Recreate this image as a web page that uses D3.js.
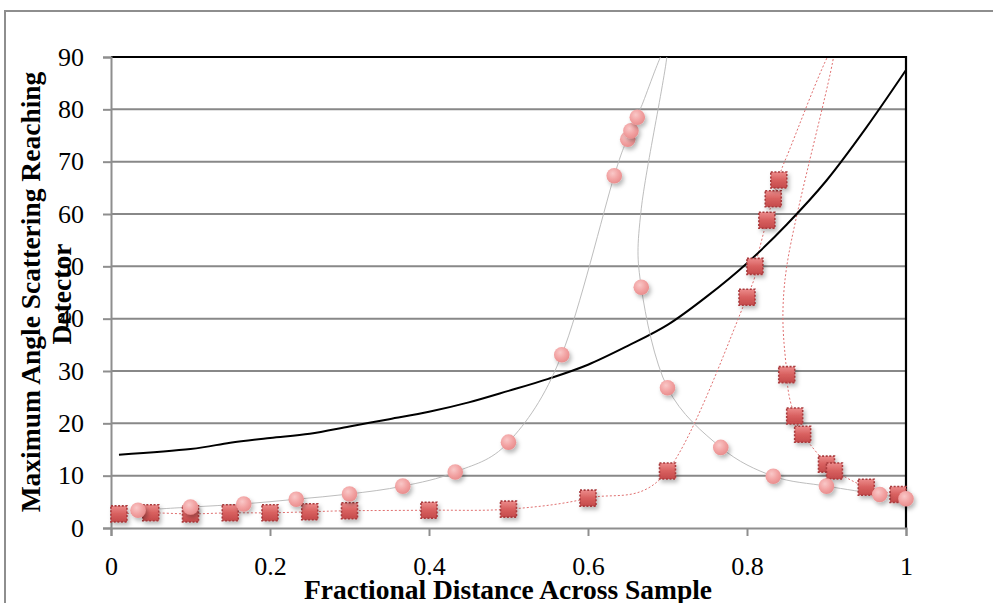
<!DOCTYPE html>
<html>
<head>
<meta charset="utf-8">
<script src="https://cdn.jsdelivr.net/npm/d3@7"></script>
<style>
  body { margin: 0; background: #fff; }
  svg { display: block; }
</style>
</head>
<body>
<div id="chart"></div>
<script>
// theoretical curve (black line)
var theoryX = [0.01, 0.1, 0.15, 0.2, 0.25, 0.3, 0.35, 0.4, 0.45, 0.5, 0.55, 0.6, 0.65, 0.7, 0.75, 0.8, 0.85, 0.9, 0.95, 1.0];
var theoryY = [14.0, 15.1, 16.3, 17.2, 18.0, 19.4, 20.8, 22.2, 24.0, 26.2, 28.5, 31.2, 34.8, 38.8, 44.3, 50.6, 58.0, 66.4, 76.5, 87.5];

// pink circles series
var circleX = [0.034, 0.1, 0.167, 0.233, 0.3, 0.367, 0.433, 0.5, 0.567, 0.633, 0.65, 0.654, 0.662, 0.667, 0.7, 0.767, 0.833, 0.9, 0.967, 1.0];
var circleY = [3.4, 4.0, 4.6, 5.5, 6.5, 8.0, 10.7, 16.4, 33.1, 67.3, 74.3, 75.9, 78.5, 46.0, 26.8, 15.4, 9.9, 8.0, 6.4, 5.6];
// the smoothed grey line also runs through points above the axis maximum
var circleLineX = [0.034, 0.1, 0.167, 0.233, 0.3, 0.367, 0.433, 0.5, 0.567, 0.633, 0.65, 0.654, 0.662, 0.667, 0.7, 0.667, 0.667, 0.7, 0.767, 0.833, 0.9, 0.967, 1.0];
var circleLineY = [3.4, 4.0, 4.6, 5.5, 6.5, 8.0, 10.7, 16.4, 33.1, 67.3, 74.3, 75.9, 78.5, 80.5, 91.5, 61.0, 46.0, 26.8, 15.4, 9.9, 8.0, 6.4, 5.6];

// red squares series
var squareX = [0.01, 0.05, 0.1, 0.15, 0.2, 0.25, 0.3, 0.4, 0.5, 0.6, 0.7, 0.8, 0.81, 0.825, 0.833, 0.84, 0.85, 0.86, 0.87, 0.9, 0.91, 0.95, 0.99];
var squareY = [2.7, 2.9, 2.7, 2.9, 2.9, 3.1, 3.3, 3.4, 3.6, 5.7, 10.9, 44.1, 50.0, 58.8, 62.9, 66.5, 29.3, 21.4, 17.9, 12.2, 10.9, 7.8, 6.4];
var squareLineX = [0.01, 0.05, 0.1, 0.15, 0.2, 0.25, 0.3, 0.4, 0.5, 0.6, 0.7, 0.8, 0.81, 0.825, 0.833, 0.84, 0.85, 0.91, 0.85, 0.85, 0.86, 0.87, 0.9, 0.91, 0.95, 0.99];
var squareLineY = [2.7, 2.9, 2.7, 2.9, 2.9, 3.1, 3.3, 3.4, 3.6, 5.7, 10.9, 44.1, 50.0, 58.8, 62.9, 66.5, 71.0, 91.5, 50.0, 29.3, 21.4, 17.9, 12.2, 10.9, 7.8, 6.4];

var yTicks = [0, 10, 20, 30, 40, 50, 60, 70, 80, 90];
var xTicks = [0, 0.2, 0.4, 0.6, 0.8, 1];
var xTickLabels = ["0", "0.2", "0.4", "0.6", "0.8", "1"];

function zip(xs, ys) {
    return xs.map(function(x, i) { return { x: x, y: ys[i] }; });
}

function main()
{
    var svgWidth = 993;
    var svgHeight = 603;
    var left = 111, right = 906, top = 57, bottom = 528;

    var svg = d3.select("#chart").append("svg")
        .attr("width", svgWidth)
        .attr("height", svgHeight);

    var defs = svg.append("defs");

    var shadow = defs.append("filter").attr("id", "shadow")
        .attr("x", "-60%").attr("y", "-60%").attr("width", "220%").attr("height", "220%");
    shadow.append("feDropShadow")
        .attr("dx", 2).attr("dy", 3).attr("stdDeviation", 2)
        .attr("flood-color", "#000").attr("flood-opacity", 0.28);

    var cg = defs.append("radialGradient").attr("id", "circleFill")
        .attr("cx", "40%").attr("cy", "35%").attr("r", "65%");
    cg.append("stop").attr("offset", "0%").attr("stop-color", "#f9c8c8");
    cg.append("stop").attr("offset", "60%").attr("stop-color", "#f2a2a2");
    cg.append("stop").attr("offset", "100%").attr("stop-color", "#e98e8e");

    var sg = defs.append("linearGradient").attr("id", "squareFill")
        .attr("x1", 0).attr("y1", 0).attr("x2", 0).attr("y2", 1);
    sg.append("stop").attr("offset", "0%").attr("stop-color", "#ec8b8b");
    sg.append("stop").attr("offset", "50%").attr("stop-color", "#d8605f");
    sg.append("stop").attr("offset", "100%").attr("stop-color", "#c44a4b");

    defs.append("clipPath").attr("id", "plotClip")
        .append("rect")
        .attr("x", left).attr("y", top)
        .attr("width", right - left).attr("height", bottom - top);

    var xScale = d3.scaleLinear().domain([0, 1]).range([left, right]);
    var yScale = d3.scaleLinear().domain([0, 90]).range([bottom, top]);

    // outer chart frame
    svg.append("path")
        .attr("d", "M5," + svgHeight + "V11H" + svgWidth)
        .attr("fill", "none")
        .attr("stroke", "#8e8e8e")
        .attr("stroke-width", 2);

    // gridlines
    svg.append("g").selectAll("line")
        .data(yTicks.filter(function(d) { return d > 0 && d < 90; }))
        .enter().append("line")
        .attr("x1", left).attr("x2", right)
        .attr("y1", function(d) { return yScale(d); })
        .attr("y2", function(d) { return yScale(d); })
        .attr("stroke", "#888")
        .attr("stroke-width", 2);

    // plot area border (top and right)
    svg.append("path")
        .attr("d", "M" + left + "," + yScale(90) + "H" + xScale(1) + "V" + yScale(0))
        .attr("fill", "none")
        .attr("stroke", "#000")
        .attr("stroke-width", 2.2);

    // axes
    var tickFont = "'Liberation Serif', 'Times New Roman', serif";
    var yAxis = svg.append("g")
        .attr("transform", "translate(" + left + ",0)")
        .call(d3.axisLeft(yScale).tickValues(yTicks).tickSize(8).tickPadding(19));
    var xAxis = svg.append("g")
        .attr("transform", "translate(0," + bottom + ")")
        .call(d3.axisBottom(xScale).tickValues(xTicks).tickSize(8)
            .tickFormat(function(d, i) { return xTickLabels[i]; }));

    [yAxis, xAxis].forEach(function(a) {
        a.select(".domain").attr("stroke", "#8e8e8e").attr("stroke-width", 2);
        a.selectAll(".tick line").attr("stroke", "#8e8e8e").attr("stroke-width", 2);
        a.selectAll(".tick text")
            .attr("font-family", tickFont)
            .attr("font-size", "26px")
            .attr("fill", "#000");
    });
    xAxis.selectAll(".tick text").attr("y", 47).attr("dy", 0);

    var plot = svg.append("g").attr("clip-path", "url(#plotClip)");
    var smooth = d3.line()
        .x(function(d) { return xScale(d.x); })
        .y(function(d) { return yScale(d.y); })
        .curve(d3.curveCardinal.tension(0));

    // red squares series
    plot.append("path")
        .datum(zip(squareLineX, squareLineY))
        .attr("d", smooth)
        .attr("fill", "none")
        .attr("stroke", "#e07070")
        .attr("stroke-width", 1)
        .attr("stroke-dasharray", "2,2");

    svg.append("g").selectAll("rect")
        .data(zip(squareX, squareY))
        .enter().append("rect")
        .attr("x", function(d) { return xScale(d.x) - 8; })
        .attr("y", function(d) { return yScale(d.y) - 8; })
        .attr("width", 16)
        .attr("height", 16)
        .attr("fill", "url(#squareFill)")
        .attr("stroke", "#a83a3c")
        .attr("stroke-width", 1.6)
        .attr("stroke-dasharray", "2,1.6")
        .attr("filter", "url(#shadow)");

    // black theoretical line
    plot.append("path")
        .datum(zip(theoryX, theoryY))
        .attr("d", smooth)
        .attr("fill", "none")
        .attr("stroke", "#000")
        .attr("stroke-width", 2);

    // grey line + pink circles
    plot.append("path")
        .datum(zip(circleLineX, circleLineY))
        .attr("d", smooth)
        .attr("fill", "none")
        .attr("stroke", "#b5b5b5")
        .attr("stroke-width", 0.9);

    svg.append("g").selectAll("circle")
        .data(zip(circleX, circleY))
        .enter().append("circle")
        .attr("cx", function(d) { return xScale(d.x); })
        .attr("cy", function(d) { return yScale(d.y); })
        .attr("r", 7.8)
        .attr("fill", "url(#circleFill)")
        .attr("filter", "url(#shadow)");

    // axis titles
    var titleFont = "'Liberation Serif', 'Times New Roman', serif";
    svg.append("text")
        .attr("transform", "translate(40," + 292 + ") rotate(-90)")
        .attr("text-anchor", "middle")
        .attr("font-family", titleFont)
        .attr("font-weight", "bold")
        .attr("font-size", "27.5px")
        .text("Maximum Angle Scattering Reaching");
    svg.append("text")
        .attr("transform", "translate(71," + 294 + ") rotate(-90)")
        .attr("text-anchor", "middle")
        .attr("font-family", titleFont)
        .attr("font-weight", "bold")
        .attr("font-size", "27.5px")
        .text("Detector");
    svg.append("text")
        .attr("x", 508)
        .attr("y", 599)
        .attr("text-anchor", "middle")
        .attr("font-family", titleFont)
        .attr("font-weight", "bold")
        .attr("font-size", "27.5px")
        .text("Fractional Distance Across Sample");
}
main();
</script>
</body>
</html>
